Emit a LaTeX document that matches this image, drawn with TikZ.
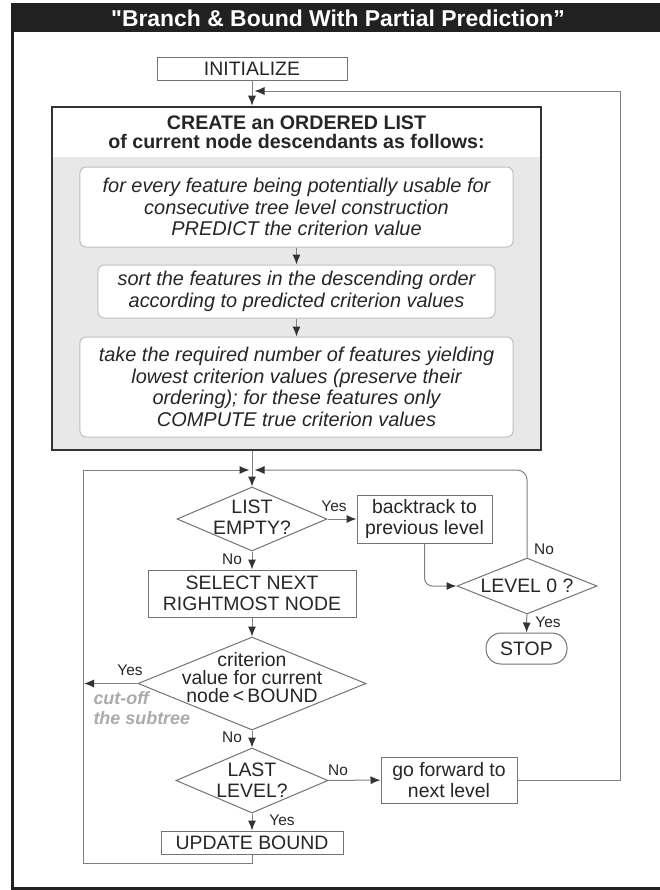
\documentclass[tikz,border=0pt]{standalone}
\usepackage{fontspec}
\setmainfont{Liberation Sans}
\usetikzlibrary{arrows.meta,shapes.geometric}

\begin{document}
\begin{tikzpicture}[x=1bp,y=-1bp,
  every node/.style={text=black!85, font=\fontsize{19.5}{21}\selectfont},
  stepbox/.style={draw=black!55, line width=1bp, fill=white, inner sep=0pt, align=center},
  decision/.style={diamond, draw=black!55, line width=1bp, fill=white, inner sep=0pt},
  dtext/.style={align=center},
  inbox/.style={draw=black!25, line width=1bp, rounded corners=6bp, fill=white, inner sep=0pt,
    align=center, font=\itshape\fontsize{20}{21.7}\selectfont},
  answer/.style={font=\fontsize{15.5}{17}\selectfont},
  flow/.style={draw=black!50, line width=1bp, -{Latex[length=10bp,width=8bp,color=black!80]}}]

% page, frame and title bar
\useasboundingbox (0,0) rectangle (660,890);
\fill[white] (0,0) rectangle (660,890);
\clip (0,0) rectangle (660,890);
\fill[black!87] (11,3) rectangle (672,32);
\draw[black!87, line width=3.5bp] (12.5,4.75) rectangle (672,888.25);
\node[font=\bfseries\fontsize{23}{25}\selectfont, text=white] (title) at (338,18)
  {\textquotedbl Branch \& Bound With Partial Prediction”};

% Coordinates of the free ends and corners
\coordinate (entry) at (252,91);
\coordinate (merge) at (252,470);
\coordinate (cut) at (84,683.5);
\coordinate (lcorner) at (83,863);
\coordinate (rcorner) at (620,780);

% Start
\node[stepbox, minimum width=190bp, minimum height=23bp] (init) at (252,68.5) {INITIALIZE};

% The ordered list block
\fill[black!9] (52,157) rectangle (541,450);
\node[draw=black!80, line width=2.5bp, minimum width=489bp, minimum height=343bp, inner sep=0pt]
  (create) at (296.5,278.5) {};
\node[font=\bfseries\fontsize{19.7}{19}\selectfont, align=center] (head) at (296.5,132.5)
  {CREATE an ORDERED LIST\\of current node descendants as follows:};

\node[inbox, minimum width=433bp, minimum height=80bp] (predict) at (296.5,207)
  {for every feature being potentially usable for\\consecutive tree level construction\\PREDICT the criterion value};
\node[inbox, minimum width=397bp, minimum height=53bp] (sort) at (296.5,291.5)
  {sort the features in the descending order\\according to predicted criterion values};
\node[inbox, minimum width=433bp, minimum height=100bp] (take) at (296.5,387)
  {take the required number of features yielding\\lowest criterion values (preserve their\\ordering); for these features only\\COMPUTE true criterion values};

% Search loop
\node[decision, minimum width=150bp, minimum height=64bp,
  label={[dtext, yshift=2bp]center:{LIST\\EMPTY?}}] (list) at (252,519) {};
\node[stepbox, minimum width=135bp, minimum height=48bp] (back) at (424.5,519) {backtrack to\\previous level};
\node[decision, minimum width=140bp, minimum height=56bp,
  label={[dtext]center:{LEVEL 0 ?}}] (level) at (527,586) {};
\node[stepbox, rounded corners=15bp, minimum width=81bp, minimum height=31bp] (stop) at (526.5,648.5) {STOP};
\node[stepbox, minimum width=208bp, minimum height=47bp] (select) at (252,593.5) {SELECT NEXT\\RIGHTMOST NODE};
\node[decision, minimum width=228bp, minimum height=93bp,
  label={[dtext, yshift=6bp, font=\fontsize{19.5}{18}\selectfont]center:{criterion\\value for current\\node\,<\,BOUND}}]
  (crit) at (252,683.5) {};
\node[decision, minimum width=152bp, minimum height=65bp,
  label={[dtext]center:{LAST\\LEVEL?}}] (last) at (252,780.5) {};
\node[stepbox, minimum width=136bp, minimum height=46bp] (fwd) at (449,780) {go forward to\\next level};
\node[stepbox, minimum width=182bp, minimum height=23bp] (update) at (252,842.5) {UPDATE BOUND};

\node[font=\bfseries\itshape\fontsize{18}{20}\selectfont, text=black!33, align=left, anchor=west]
  (cutnote) at (90,708) {cut-off\\the subtree};

% Answers
\node[answer] (yes1) at (334,506) {Yes};
\node[answer] (no1) at (232,559) {No};
\node[answer] (no2) at (544,549) {No};
\node[answer] (yes2) at (548,622) {Yes};
\node[answer] (yes3) at (130,670) {Yes};
\node[answer] (no3) at (232,737) {No};
\node[answer] (no4) at (338,770) {No};
\node[answer] (yes4) at (282,820) {Yes};

% Connectors
\draw[flow] (init) -- (create.north -| init);
\draw[flow] (predict) -- (sort);
\draw[flow] (sort) -- (take);
\draw[flow] (create.south -| init) -- (list);
\draw[flow] (list) -- (back);
\draw[flow, rounded corners=8bp] (back) -- (back |- level) -- (level);
\draw[flow, rounded corners=10bp] (level) -- (level |- merge) -- ([xshift=2.5bp]merge);
\draw[flow] (level) -- (stop);
\draw[flow] (list) -- (select);
\draw[flow] (select) -- (crit);
\draw[flow] (crit) -- (cut);
\draw[flow] (crit) -- (last);
\draw[flow] (last) -- (fwd);
\draw[flow] (last) -- (update);
\draw[flow] (update) -- (update |- lcorner) -- (lcorner) -- (lcorner |- merge) -- ([xshift=-2.5bp]merge);
\draw[flow] (fwd) -- (rcorner) -- (rcorner |- entry) -- ([xshift=2.5bp]entry);
\end{tikzpicture}
\end{document}
